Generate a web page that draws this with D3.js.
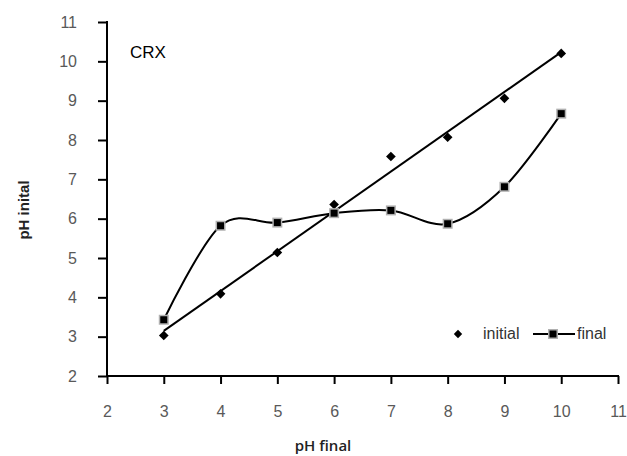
<!DOCTYPE html>
<html>
<head>
<meta charset="utf-8">
<script src="https://cdn.jsdelivr.net/npm/d3@7"></script>
<style>
  html, body { margin: 0; padding: 0; background: #fff; }
  svg { display: block; }
</style>
</head>
<body>
<svg id="chart" width="627" height="456"></svg>
<script>
// pH values (x = final pH category, y = measured pH)
const phPoints = [3, 4, 5, 6, 7, 8, 9, 10];
const initialValues = [3.03, 4.09, 5.14, 6.36, 7.58, 8.07, 9.06, 10.2];
const finalValues = [3.43, 5.82, 5.90, 6.14, 6.21, 5.87, 6.81, 8.67];
const xTicks = [2, 3, 4, 5, 6, 7, 8, 9, 10, 11];
const yTicks = [2, 3, 4, 5, 6, 7, 8, 9, 10, 11];

const svg = d3.select("#chart");
const x = d3.scaleLinear().domain([2, 11]).range([107, 618]);
const y = d3.scaleLinear().domain([2, 11]).range([376, 22]);

const labelFont = "'Liberation Sans', Arial, sans-serif";

// Axes
const xAxis = svg.append("g").attr("transform", `translate(0,${y(2)})`)
  .call(d3.axisBottom(x).tickValues(xTicks).tickSize(8).tickPadding(22).tickSizeOuter(0));
const yAxis = svg.append("g").attr("transform", `translate(${x(2)},0)`)
  .call(d3.axisLeft(y).tickValues(yTicks).tickSize(9).tickPadding(21).tickSizeOuter(0));
[xAxis, yAxis].forEach(g => {
  g.select(".domain").attr("stroke", "#000").attr("stroke-width", 2);
  g.selectAll(".tick line").attr("stroke", "#000").attr("stroke-width", 2);
  g.selectAll(".tick text").attr("fill", "#595959")
    .style("font-family", labelFont).style("font-size", "16px");
});
// extend the domain lines by a pixel so the axes meet cleanly
xAxis.select(".domain").attr("d", `M${x(2) - 1},0H${x(11) + 1}`);
yAxis.select(".domain").attr("d", `M0,${y(2) + 1}V${y(11) - 1}`);

// Linear trend of the initial values
const mx = d3.mean(phPoints), my = d3.mean(initialValues);
const slope = d3.sum(phPoints, (v, i) => (v - mx) * (initialValues[i] - my)) /
              d3.sum(phPoints, v => (v - mx) * (v - mx));
const intercept = my - slope * mx;
const xMin = d3.min(phPoints), xMax = d3.max(phPoints);
svg.append("line")
  .attr("x1", x(xMin)).attr("y1", y(intercept + slope * xMin))
  .attr("x2", x(xMax)).attr("y2", y(intercept + slope * xMax))
  .attr("stroke", "#000").attr("stroke-width", 2);

// Smoothed line for the final values
const finalData = phPoints.map((p, i) => [p, finalValues[i]]);
svg.append("path")
  .datum(finalData)
  .attr("fill", "none").attr("stroke", "#000").attr("stroke-width", 2)
  .attr("d", d3.line().x(d => x(d[0])).y(d => y(d[1])).curve(d3.curveCardinal.tension(0)));

// Markers
const diamond = d3.symbol().type(d3.symbolDiamond2).size(60);
svg.append("g").selectAll("path")
  .data(phPoints.map((p, i) => [p, initialValues[i]]))
  .join("path")
  .attr("transform", d => `translate(${x(d[0])},${y(d[1])})`)
  .attr("d", diamond).attr("fill", "#000");

function squareMarker(sel) {
  sel.append("rect").attr("x", -5).attr("y", -5).attr("width", 10).attr("height", 10).attr("fill", "#b0b0b0");
  sel.append("rect").attr("x", -3.5).attr("y", -3.5).attr("width", 7).attr("height", 7).attr("fill", "#000");
}
svg.append("g").selectAll("g")
  .data(finalData)
  .join("g")
  .attr("transform", d => `translate(${x(d[0])},${y(d[1])})`)
  .call(squareMarker);

// Panel label
svg.append("text").attr("x", 130).attr("y", 58).text("CRX")
  .style("font-family", labelFont).style("font-size", "17px").attr("fill", "#000");

// Axis titles
svg.append("text").attr("x", 323).attr("y", 451).attr("text-anchor", "middle")
  .text("pH final")
  .style("font-family", "'Open Sans', sans-serif").style("font-size", "15px")
  .style("font-weight", 600).attr("fill", "#222");
svg.append("text")
  .attr("transform", "translate(29,210) rotate(-90)")
  .attr("text-anchor", "middle")
  .text("pH inital")
  .style("font-family", labelFont).style("font-size", "15px")
  .style("font-weight", "bold").attr("fill", "#222");

// Legend
const legend = svg.append("g");
legend.append("path").attr("transform", "translate(458,334)")
  .attr("d", d3.symbol().type(d3.symbolDiamond2).size(45)).attr("fill", "#000");
legend.append("text").attr("x", 483).attr("y", 339).text("initial")
  .style("font-family", labelFont).style("font-size", "16px").attr("fill", "#333");
legend.append("line").attr("x1", 533).attr("x2", 575).attr("y1", 334).attr("y2", 334)
  .attr("stroke", "#000").attr("stroke-width", 2);
legend.append("g").attr("transform", "translate(553,334)").call(squareMarker);
legend.append("text").attr("x", 577).attr("y", 339).text("final")
  .style("font-family", labelFont).style("font-size", "16px").attr("fill", "#333");
</script>
</body>
</html>
